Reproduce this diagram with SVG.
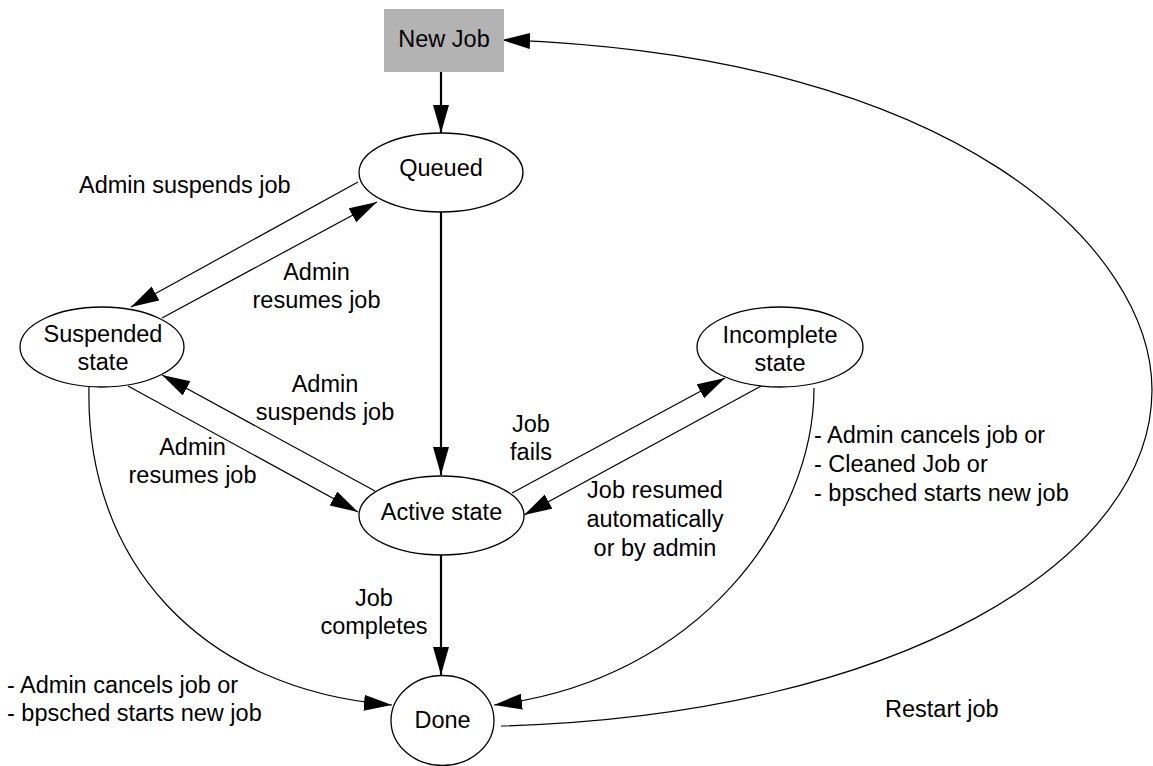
<svg xmlns="http://www.w3.org/2000/svg" width="1153" height="766" viewBox="0 0 1153 766">
<style>
text{font-family:"Liberation Sans",Arial,Helvetica,sans-serif;font-size:23.5px;fill:#000}
.c{text-anchor:middle}
.node{fill:#fff;stroke:#000;stroke-width:1.3}
.thin{fill:none;stroke:#000;stroke-width:1.2;marker-end:url(#ah)}
.thick{fill:none;stroke:#000;stroke-width:2.2;marker-end:url(#ah)}
</style>
<defs>
<marker id="ah" markerUnits="userSpaceOnUse" markerWidth="30" markerHeight="18" refX="28" refY="8" orient="auto">
<path d="M0,0 L28,8 L0,16 Z" fill="#000"/>
</marker>
</defs>
<rect width="1153" height="766" fill="#fff"/>
<g id="connectors">
<path class="thick" d="M441,72 L441,133"/>
<path class="thick" d="M441,212 L441,475"/>
<path class="thick" d="M441,555 L441,675"/>
<path class="thin" d="M358,182 L131,307"/>
<path class="thin" d="M162,318 L377,202"/>
<path class="thin" d="M375,491 L162,375"/>
<path class="thin" d="M128,386 L358,512"/>
<path class="thin" d="M512,493 L725,378"/>
<path class="thin" d="M763,385 L524,515"/>
<path class="thin" d="M814,388 C814,520 700,680 494,705"/>
<path class="thin" d="M89,387 C85,560 200,690 392,705"/>
<path class="thin" d="M501,726 C900,715 1152,560 1152,390 C1152,250 960,55 502,40"/>
</g>
<g id="labels">
<text x="79" y="193">Admin suspends job</text>
<text class="c" x="316.5" y="280">Admin</text>
<text class="c" x="316.5" y="308">resumes job</text>
<text class="c" x="325" y="392">Admin</text>
<text class="c" x="325" y="420">suspends job</text>
<text class="c" x="192.5" y="455">Admin</text>
<text class="c" x="192.5" y="483">resumes job</text>
<text class="c" x="531" y="432">Job</text>
<text class="c" x="531" y="460">fails</text>
<text class="c" x="655" y="498">Job resumed</text>
<text class="c" x="655" y="527">automatically</text>
<text class="c" x="655" y="556">or by admin</text>
<text x="814" y="443">- Admin cancels job or</text>
<text x="814" y="472">- Cleaned Job or</text>
<text x="814" y="501">- bpsched starts new job</text>
<text class="c" x="374" y="606">Job</text>
<text class="c" x="374" y="634">completes</text>
<text x="7" y="693">- Admin cancels job or</text>
<text x="7" y="721">- bpsched starts new job</text>
<text x="885" y="717">Restart job</text>
</g>
<g id="node-newjob">
<rect x="384" y="9" width="120" height="63" fill="#b3b3b3"/>
<text class="c" x="444" y="47">New Job</text>
</g>
<g id="node-queued">
<ellipse class="node" cx="441" cy="172.5" rx="82" ry="39.5"/>
<text class="c" x="441" y="176">Queued</text>
</g>
<g id="node-suspended">
<ellipse class="node" cx="102" cy="347" rx="82" ry="40"/>
<text class="c" x="103" y="342">Suspended</text>
<text class="c" x="103" y="370">state</text>
</g>
<g id="node-active">
<ellipse class="node" cx="441.5" cy="515.5" rx="82.5" ry="39.5"/>
<text class="c" x="441.5" y="520">Active state</text>
</g>
<g id="node-incomplete">
<ellipse class="node" cx="780" cy="347" rx="83" ry="40"/>
<text class="c" x="780" y="343">Incomplete</text>
<text class="c" x="780" y="371">state</text>
</g>
<g id="node-done">
<ellipse class="node" cx="442.5" cy="720.5" rx="51.5" ry="45"/>
<text class="c" x="442.5" y="728">Done</text>
</g>
</svg>
